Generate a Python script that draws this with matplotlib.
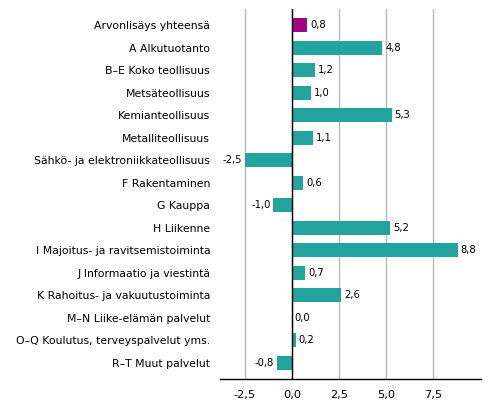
import numpy as np
from matplotlib import pyplot as plt
from matplotlib.ticker import FuncFormatter

labels = ["Arvonlisäys yhteensä", "A Alkutuotanto", "B–E Koko teollisuus",
          "Metsäteollisuus", "Kemianteollisuus", "Metalliteollisuus",
          "Sähkö- ja elektroniikkateollisuus", "F Rakentaminen", "G Kauppa",
          "H Liikenne", "I Majoitus- ja ravitsemistoiminta",
          "J Informaatio ja viestintä", "K Rahoitus- ja vakuutustoiminta",
          "M–N Liike-elämän palvelut", "O–Q Koulutus, terveyspalvelut yms.",
          "R–T Muut palvelut"]
values = [0.8, 4.8, 1.2, 1.0, 5.3, 1.1, -2.5, 0.6, -1.0, 5.2, 8.8, 0.7, 2.6, 0.0, 0.2, -0.8]
ticks = [-2.5, 0.0, 2.5, 5.0, 7.5]

teal = "#22a39d"
purple = "#a0067f"

fig = plt.figure(figsize=(4.91, 4.16), dpi=100)
ax = fig.add_axes([0.448, 0.089, 0.532, 0.889])

y = np.arange(len(values))
colors = [purple] + [teal] * (len(values) - 1)
ax.barh(y, values, height=0.62, color=colors, zorder=3)

def fmt(v):
    return ("%.1f" % v).replace(".", ",")

for yi, v in zip(y, values):
    if v >= 0:
        ax.text(v + 0.15, yi, fmt(v), va="center", ha="left", fontsize=7.2, zorder=4)
    else:
        ax.text(v - 0.15, yi, fmt(v), va="center", ha="right", fontsize=7.2, zorder=4)

ax.set_yticks(y)
ax.set_yticklabels(labels, fontsize=7.8)
ax.set_ylim(len(values) - 0.29, -0.71)
ax.set_xlim(-3.83, 10.05)
ax.set_xticks(ticks)
ax.xaxis.set_major_formatter(FuncFormatter(lambda v, p: fmt(v)))
ax.tick_params(axis="x", labelsize=8.2, length=0, pad=8)
ax.tick_params(axis="y", length=0, pad=7)

ax.grid(axis="x", color="#bbbbbb", linewidth=1, zorder=0)
ax.axvline(0, color="black", linewidth=1, zorder=5)
for s in ["top", "right", "left"]:
    ax.spines[s].set_visible(False)
ax.spines["bottom"].set_color("black")
ax.spines["bottom"].set_linewidth(1)

fig.savefig("out.png", dpi=100)
